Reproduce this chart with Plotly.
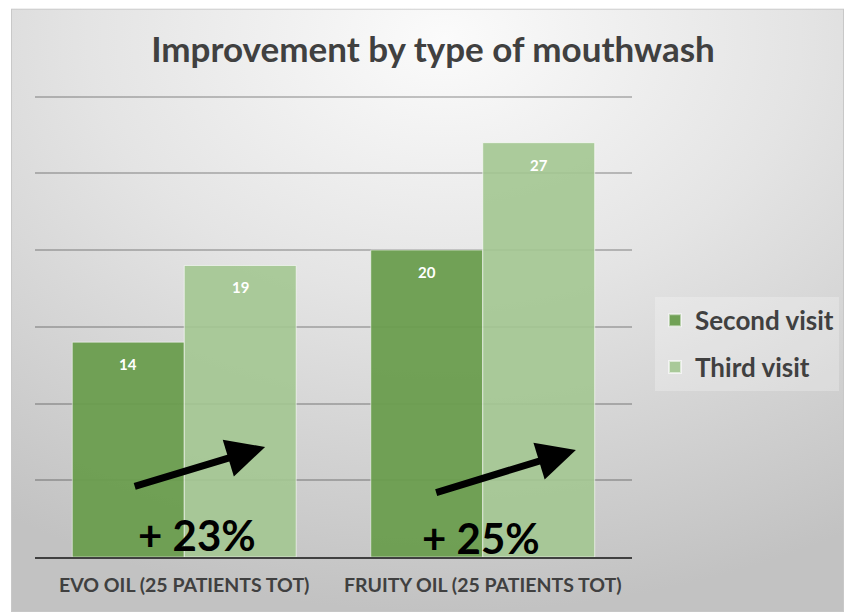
import base64
import plotly.graph_objects as go

categories = ["EVO OIL (25 PATIENTS TOT)", "FRUITY OIL (25 PATIENTS TOT)"]
second_visit = [14, 20]
third_visit = [19, 27]
improvement = ["+ 23%", "+ 25%"]

W, H = 844, 612
ymax = 30.5
px_per_unit = 460 / 30
L, R, B = 35, 212, 55
T = (H - B) - ymax * px_per_unit
plot_w = W - L - R
plot_h = H - T - B

dark = "rgba(106,157,78,0.95)"
light = "rgba(163,198,145,0.90)"
txt = "#404040"

svg = f'''<svg xmlns="http://www.w3.org/2000/svg" width="833" height="603" viewBox="0 0 833 603" preserveAspectRatio="none">
<defs><radialGradient id="g" cx="52%" cy="5%" r="95%" gradientUnits="objectBoundingBox">
<stop offset="0" stop-color="#fbfbfb"/><stop offset="0.45" stop-color="#e4e4e4"/><stop offset="1" stop-color="#c2c2c2"/>
</radialGradient></defs>
<rect x="0" y="0" width="833" height="603" fill="url(#g)"/>
<rect x="0.5" y="0.5" width="832" height="602" fill="none" stroke="#c8c8c8" stroke-width="1"/>
</svg>'''
src = "data:image/svg+xml;base64," + base64.b64encode(svg.encode()).decode()

def px_to_paper_x(p):
    return (p - L) / plot_w

def px_to_paper_y(p):
    return (H - B - p) / plot_h

fig = go.Figure()
fig.add_trace(go.Bar(name="Second visit", x=[0, 1], y=second_visit, legendgroup="a",
                     marker=dict(color=dark, line=dict(color="rgba(255,255,255,0.5)", width=1))))
fig.add_trace(go.Bar(name="Third visit", x=[0, 1], y=third_visit, legendgroup="b",
                     marker=dict(color=light, line=dict(color="rgba(255,255,255,0.6)", width=1))))

bargap = 0.25
bw = (1 - bargap) / 2
annotations = []
for i in range(len(categories)):
    for off, vals in ((-bw / 2, second_visit), (bw / 2, third_visit)):
        annotations.append(dict(x=i + off, y=vals[i], xref="x", yref="y", text=str(vals[i]),
                                showarrow=False, yshift=-22,
                                font=dict(family="Lato", size=15, color="white", weight="bold")))

# arrows (tail -> head)
arrow_specs = [(-0.171, 4.57, 0.271, 7.17), (0.839, 4.17, 1.312, 6.98)]
for (x0, y0, x1, y1) in arrow_specs:
    annotations.append(dict(x=x1, y=y1, ax=x0, ay=y0, xref="x", yref="y", axref="x", ayref="y",
                            text="", showarrow=True, arrowhead=2, arrowsize=1.1,
                            arrowwidth=7, arrowcolor="black", standoff=0))

pct_pos = [(0.044, 1.43), (0.993, 1.24)]
for (x, y), t in zip(pct_pos, improvement):
    annotations.append(dict(x=x, y=y, xref="x", yref="y", text=t, showarrow=False,
                            font=dict(family="Lato", size=42, color="black", weight="bold")))

fig.update_layout(
    width=W, height=H,
    margin=dict(l=L, r=R, t=T, b=B, pad=0, autoexpand=False),
    paper_bgcolor="white",
    plot_bgcolor="rgba(0,0,0,0)",
    barmode="group", bargap=bargap, bargroupgap=0,
    title=dict(text="Improvement by type of mouthwash", x=px_to_paper_x(433), xref="paper",
               xanchor="center", y=1 - 50 / H, yanchor="middle",
               font=dict(family="Lato", size=35, color=txt, weight="bold")),
    xaxis=dict(tickmode="array", tickvals=[0, 1], ticktext=categories, range=[-0.5, 1.5],
               showgrid=False, zeroline=False, showline=True, linecolor="#404040", linewidth=2,
               tickfont=dict(family="Lato", size=19.5, color=txt, weight="bold"), ticks="",
               ticklabelstandoff=10),
    yaxis=dict(range=[0, ymax], dtick=5, showticklabels=False, showgrid=True,
               gridcolor="rgba(0,0,0,0.22)", gridwidth=1.5, zeroline=False, ticks=""),
    legend=dict(x=px_to_paper_x(655), y=px_to_paper_y(297), xanchor="left", yanchor="top",
                bgcolor="rgba(255,255,255,0.25)", font=dict(family="Lato", size=26, color=txt, weight="bold"),
                itemsizing="constant", traceorder="grouped", tracegroupgap=10),
    showlegend=True,
    annotations=annotations,
    images=[dict(source=src, xref="paper", yref="paper",
                 x=px_to_paper_x(11), y=px_to_paper_y(9),
                 sizex=(W - 11) / plot_w, sizey=(H - 9) / plot_h,
                 xanchor="left", yanchor="top", sizing="stretch", layer="below")],
)

fig.write_html("out.html")
